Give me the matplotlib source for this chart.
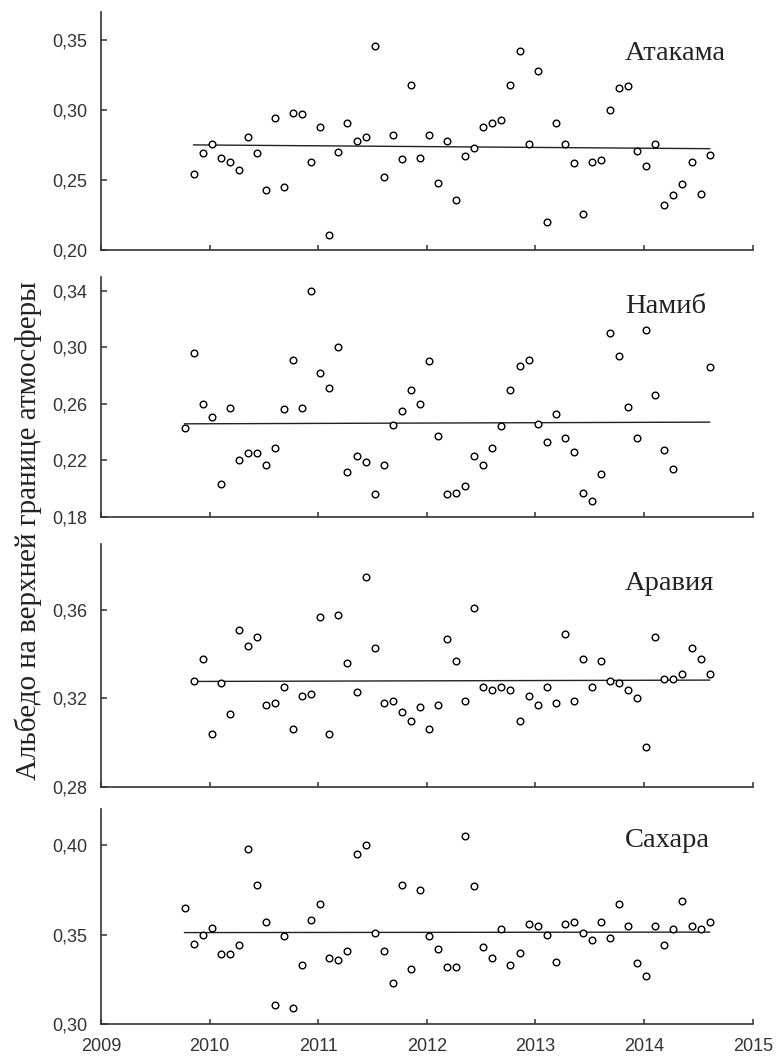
import numpy as np
import matplotlib
matplotlib.use("Agg")
import matplotlib.pyplot as plt

# monthly series, month 0 = Oct 2009, month 58 = Aug 2014
month0 = 2009.77
months = np.arange(59)

names = ["Атакама", "Намиб", "Аравия", "Сахара"]

atacama = [np.nan,
    0.254, 0.269, 0.276, 0.266, 0.263, 0.257, 0.281, 0.269, 0.243, 0.294,
    0.245, 0.298, 0.297, 0.263, 0.288, 0.211, 0.270, 0.291, 0.278, 0.281,
    0.346, 0.252, 0.282, 0.265, 0.318, 0.266, 0.282, 0.248, 0.278, 0.236,
    0.267, 0.273, 0.288, 0.291, 0.293, 0.318, 0.342, 0.276, 0.328, 0.220,
    0.291, 0.276, 0.262, 0.226, 0.263, 0.264, 0.300, 0.316, 0.317, 0.271,
    0.260, 0.276, 0.232, 0.239, 0.247, 0.263, 0.240, 0.268]

namib = [
    0.243, 0.296, 0.260, 0.251, 0.203, 0.257, 0.220, 0.225, 0.225, 0.217,
    0.229, 0.256, 0.291, 0.257, 0.340, 0.282, 0.271, 0.300, 0.212, 0.223,
    0.219, 0.196, 0.217, 0.245, 0.255, 0.270, 0.260, 0.290, 0.237, 0.196,
    0.197, 0.202, 0.223, 0.217, 0.229, 0.244, 0.270, 0.287, 0.291, 0.246,
    0.233, 0.253, 0.236, 0.226, 0.197, 0.191, 0.210, 0.310, 0.294, 0.258,
    0.236, 0.312, 0.266, 0.227, 0.214, np.nan, np.nan, np.nan, 0.286]

arabia = [np.nan,
    0.328, 0.338, 0.304, 0.327, 0.313, 0.351, 0.344, 0.348, 0.317, 0.318,
    0.325, 0.306, 0.321, 0.322, 0.357, 0.304, 0.358, 0.336, 0.323, 0.375,
    0.343, 0.318, 0.319, 0.314, 0.310, 0.316, 0.306, 0.317, 0.347, 0.337,
    0.319, 0.361, 0.325, 0.324, 0.325, 0.324, 0.310, 0.321, 0.317, 0.325,
    0.318, 0.349, 0.319, 0.338, 0.325, 0.337, 0.328, 0.327, 0.324, 0.320,
    0.298, 0.348, 0.329, 0.329, 0.331, 0.343, 0.338, 0.331]

sahara = [
    0.365, 0.345, 0.350, 0.354, 0.339, 0.339, 0.344, 0.398, 0.378, 0.357,
    0.311, 0.349, 0.309, 0.333, 0.358, 0.367, 0.337, 0.336, 0.341, 0.395,
    0.400, 0.351, 0.341, 0.323, 0.378, 0.331, 0.375, 0.349, 0.342, 0.332,
    0.332, 0.405, 0.377, 0.343, 0.337, 0.353, 0.333, 0.340, 0.356, 0.355,
    0.350, 0.335, 0.356, 0.357, 0.351, 0.347, 0.357, 0.348, 0.367, 0.355,
    0.334, 0.327, 0.355, 0.344, 0.353, 0.369, 0.355, 0.353, 0.357]

series = [atacama, namib, arabia, sahara]

ylims = [(0.20, 0.37), (0.18, 0.35), (0.28, 0.39), (0.30, 0.42)]
yticks = [[0.20, 0.25, 0.30, 0.35],
          [0.18, 0.22, 0.26, 0.30, 0.34],
          [0.28, 0.32, 0.36],
          [0.30, 0.35, 0.40]]
xticks = [2009, 2010, 2011, 2012, 2013, 2014, 2015]

# axes boxes in figure fractions [left, bottom, width, height]
boxes = [[0.130, 0.7642, 0.840, 0.2245],
         [0.130, 0.5125, 0.840, 0.2264],
         [0.130, 0.2578, 0.840, 0.2290],
         [0.130, 0.0337, 0.840, 0.2028]]
title_y = [0.798, 0.849, 0.810, 0.825]

sans = ["Liberation Sans", "DejaVu Sans"]
serif = ["Liberation Serif", "DejaVu Serif"]

fig = plt.figure(figsize=(7.76, 10.60), dpi=100)
t = month0 + months / 12.0

for k in range(4):
    ax = fig.add_axes(boxes[k])
    y = np.array(series[k], dtype=float)
    ok = ~np.isnan(y)
    ax.plot(t[ok], y[ok], linestyle="none", marker="o", markersize=4.8,
            markerfacecolor="white", markeredgecolor="black", markeredgewidth=1.0,
            zorder=3)
    # linear trend
    p = np.polyfit(t[ok], y[ok], 1)
    tt = np.array([t[ok][0], t[ok][-1]])
    ax.plot(tt, np.polyval(p, tt), color="#222222", linewidth=1.0, zorder=2)

    ax.set_xlim(2009, 2015)
    ax.set_ylim(*ylims[k])
    ax.set_xticks(xticks)
    ax.set_yticks(yticks[k])
    ax.set_yticklabels([f"{v:.2f}".replace(".", ",") for v in yticks[k]],
                       family=sans, fontsize=13, color="#333333")
    if k == 3:
        ax.set_xticklabels([str(v) for v in xticks], family=sans, fontsize=13,
                           color="#333333")
    else:
        ax.set_xticklabels([])
    ax.tick_params(axis="y", direction="in", length=4.5, width=1.1, pad=10,
                   color="#333333")
    ax.tick_params(axis="x", direction="in", length=3.8, width=1.1, pad=10,
                   color="#333333")
    for s in ["top", "right"]:
        ax.spines[s].set_visible(False)
    for s in ["left", "bottom"]:
        ax.spines[s].set_linewidth(1.2)
        ax.spines[s].set_color("#333333")
    ax.text(0.804, title_y[k], names[k], transform=ax.transAxes,
            family=serif, fontsize=20.5, color="#222222", va="baseline", ha="left")

fig.text(0.036, 0.499, "Альбедо на верхней границе атмосферы", rotation=90,
         family=serif, fontsize=21, color="#222222", va="center", ha="center")

fig.savefig("out.png", dpi=100)
